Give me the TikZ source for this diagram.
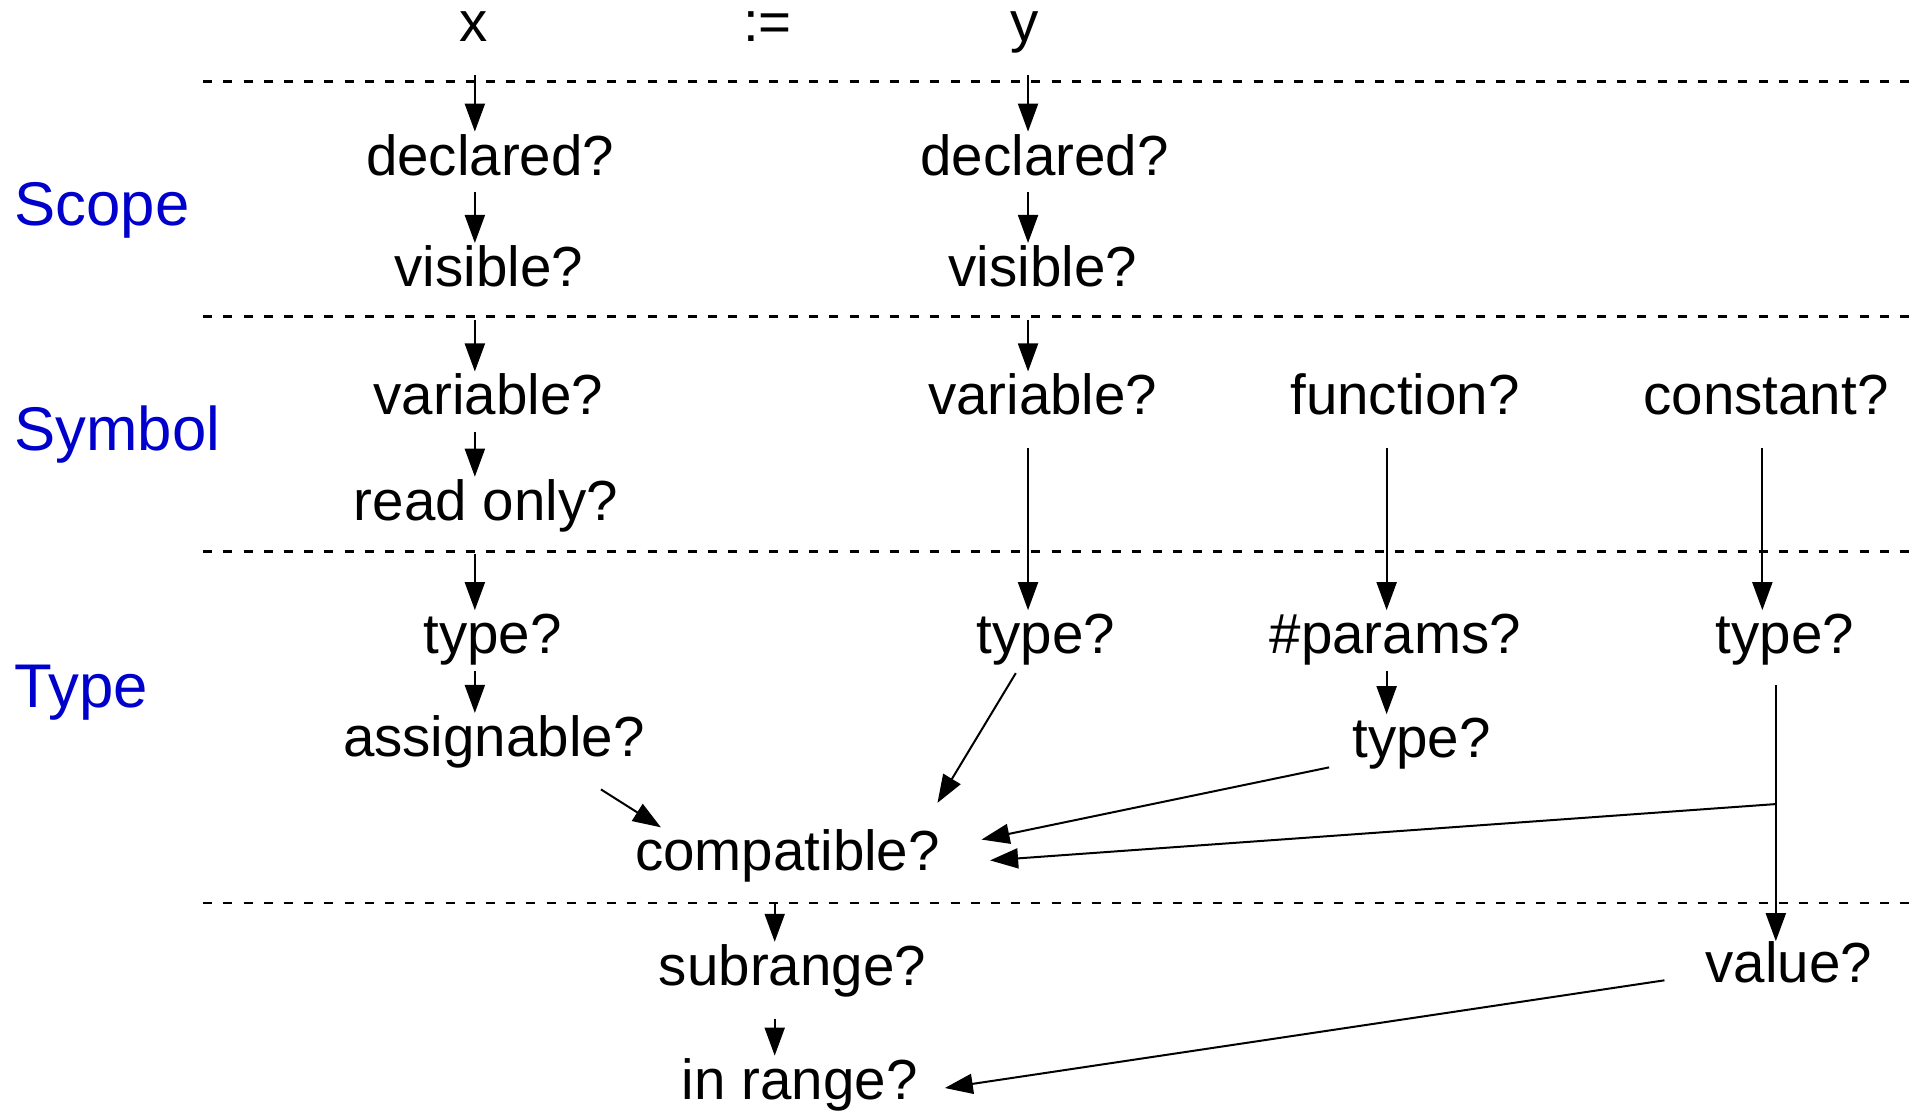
\documentclass[tikz,border=0pt]{standalone}
\usepackage{fontspec}
\setmainfont{Liberation Sans}
\usetikzlibrary{arrows.meta,calc}
\definecolor{labelblue}{RGB}{0,0,204}
\newcommand{\bodyfont}{\fontsize{28.25pt}{34pt}\selectfont}
\newcommand{\labelfont}{\fontsize{30.85pt}{37pt}\selectfont}
\begin{document}
\begin{tikzpicture}[x=0.61193pt,y=-0.61193pt,
  txt/.style={font=\bodyfont, inner sep=0pt, text height=21.5pt, text depth=8.5pt, anchor=base},
  lbl/.style={font=\labelfont, text=labelblue, inner sep=0pt, anchor=base west},
  sep/.style={line width=1.2pt, dash pattern=on 4.5pt off 5.6pt},
  arr/.style={line width=1pt, -{Triangle[length=14pt,width=10pt]}},
  long/.style={shorten <=8pt}]
\useasboundingbox (0,0) rectangle (1568,908);

% band labels
\node[lbl] (lScope) at (11.5,184) {Scope};
\node[lbl] (lSym)   at (11.5,368) {Symbol};
\node[lbl] (lType)  at (11.5,578) {Type};

% band separators
\foreach \yy in {66.5,258.5,450.5,738}
  \draw[sep] (166,\yy) -- (1562,\yy);

% arrow columns
\coordinate (cX) at (388,0);
\coordinate (cY) at (840,0);
\coordinate (cF) at (1133,0);
\coordinate (cC) at (1440,0);
\coordinate (cM) at (633,0);

% statement
\node[txt] (lhs)    at (387,34) {x};
\node[txt] (assign) at (627,34) {:=};
\node[txt] (rhs)    at (837,34) {y};

% left-hand side checks
\node[txt] (decX) at (400.5,143) {declared?};
\node[txt] (visX) at (399.5,234) {visible?};
\node[txt] (varX) at (399,339) {variable?};
\node[txt] (roX)  at (397,425) {read only?};
\node[txt] (tyX)  at (402.5,534) {type?};
\node[txt] (asg)  at (403.5,618) {assignable?};

% right-hand side checks
\node[txt] (decY) at (853.5,143) {declared?};
\node[txt] (visY) at (852,234) {visible?};
\node[txt] (varY) at (852,339) {variable?};
\node[txt] (tyY)  at (854.5,534) {type?};
\node[txt] (fun)  at (1148,339) {function?};
\node[txt] (par)  at (1140,534) {\#params?};
\node[txt] (tyF)  at (1161.5,619) {type?};
\node[txt] (con)  at (1443,339) {constant?};
\node[txt] (tyC)  at (1458.5,534) {type?};
\node[txt] (val)  at (1461.5,803) {value?};

% combined checks
\node[txt] (cmp) at (643.5,711) {compatible?};
\node[txt] (sub) at (647.5,805) {subrange?};
\node[txt] (inr) at (653.5,898) {in range?};

% left column
\draw[arr,long] (lhs.south -| cX) -- (decX.north -| cX);
\draw[arr] (decX.south -| cX) -- (visX.north -| cX);
\draw[arr,long] (visX.south -| cX) -- (varX.north -| cX);
\draw[arr] (varX.south -| cX) -- (roX.north -| cX);
\draw[arr,long] (roX.south -| cX) -- (tyX.north -| cX);
\draw[arr] (tyX.south -| cX) -- (asg.north -| cX);

% right column
\draw[arr,long] (rhs.south -| cY) -- (decY.north -| cY);
\draw[arr] (decY.south -| cY) -- (visY.north -| cY);
\draw[arr,long] (visY.south -| cY) -- (varY.north -| cY);
\draw[arr,long] (varY.south -| cY) -- (tyY.north -| cY);
\draw[arr,long] (fun.south -| cF) -- (par.north -| cF);
\draw[arr] (par.south -| cF) -- (tyF.north -| cF);
\draw[arr,long] (con.south -| cC) -- (tyC.north -| cC);

% into compatible?
\draw[arr] ($(asg.base)+(87.5,27)$) -- ($(cmp.base)+(-103.5,-35)$);
\draw[arr] ($(tyY.base)+(-24.5,16)$) -- ($(cmp.base)+(122.5,-55)$);
\draw[arr] ($(tyF.base)+(-75.5,8)$) -- ($(cmp.base)+(158.5,-25)$);
\coordinate (br) at ($(tyC.base)+(-7.5,123)$);
\draw[arr] ($(tyC.base)+(-7.5,26)$) -- ($(val.base)+(-10.5,-34)$);
\draw[arr] (br) -- ($(cmp.base)+(165.5,-8)$);

% range checks
\draw[arr,long] (cmp.south -| cM) -- (sub.north -| cM);
\draw[arr,long] (sub.south -| cM) -- (inr.north -| cM);
\draw[arr] ($(val.base)+(-101.5,-2)$) -- ($(inr.base)+(118.5,-9)$);
\end{tikzpicture}
\end{document}
